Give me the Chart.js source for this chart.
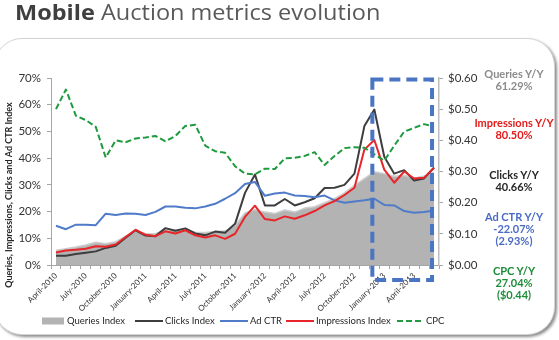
<!DOCTYPE html>
<html>
<head>
<meta charset="utf-8">
<title>Mobile Auction metrics evolution</title>
<script src="https://cdn.jsdelivr.net/npm/chart.js@4.4.0/dist/chart.umd.min.js"></script>
<style>
    html, body { margin: 0; padding: 0; background: #fff; overflow: hidden; }
    #wrap { position: relative; width: 559px; height: 340px; overflow: hidden; }
    #panel {
        position: absolute; left: -6px; top: 38px; width: 559px; height: 295px;
        border: 1px solid #d4d4d4; border-radius: 28px; background: #fff;
        box-shadow: 2px 2px 3px rgba(0, 0, 0, 0.45);
    }
    #metricsChart { position: absolute; left: 0; top: 0; }
    #title {
        position: absolute; left: 15px; top: 2px; margin: 0;
        font-family: "Open Sans", sans-serif; font-size: 21px; line-height: 21px;
        font-weight: 400; color: #595959; white-space: nowrap;
        transform: scaleX(1.12); transform-origin: left top;
    }
    #title b { color: #3f3f3f; font-weight: 700; }
    .yoy {
        position: absolute; left: 454px; width: 120px; text-align: center;
        font-family: Lato, sans-serif; font-weight: 700; font-size: 11px; line-height: 12px;
    }
</style>
</head>
<body>
<div id="wrap">
    <div id="panel"></div>
    <canvas id="metricsChart" width="559" height="340"></canvas>
    <h1 id="title"><b>Mobile</b> Auction metrics evolution</h1>
    <div class="yoy" style="top:68px;color:#8c8c8c">Queries Y/Y<br>61.29%</div>
    <div class="yoy" style="top:117px;color:#e31b1b">Impressions Y/Y<br>80.50%</div>
    <div class="yoy" style="top:169px;color:#262626">Clicks Y/Y<br>40.66%</div>
    <div class="yoy" style="top:211px;color:#4a6bc5">Ad CTR Y/Y<br>-22.07%<br>(2.93%)</div>
    <div class="yoy" style="top:265px;color:#1e8c3a">CPC Y/Y<br>27.04%<br>($0.44)</div>
</div>
<script>
// monthly categories, a label is shown every third month
const months = [
    "April-2010", "May-2010", "June-2010", "July-2010", "August-2010", "September-2010",
    "October-2010", "November-2010", "December-2010",
    "January-2011", "February-2011", "March-2011", "April-2011", "May-2011", "June-2011",
    "July-2011", "August-2011", "September-2011", "October-2011", "November-2011", "December-2011",
    "January-2012", "February-2012", "March-2012", "April-2012", "May-2012", "June-2012",
    "July-2012", "August-2012", "September-2012", "October-2012", "November-2012", "December-2012",
    "January-2013", "February-2013", "March-2013", "April-2013", "May-2013", "June-2013"
];

// left axis, percent
const queriesIndex = [5.5, 6.1, 6.7, 7.5, 8.5, 8.0, 8.7, 10.8, 12.6, 11.8, 11.7, 13.2, 13.0, 13.2, 12.3, 12.2, 12.5, 12.7, 14.8, 19.5,
    20.8, 19.8, 19.3, 20.6, 19.8, 21.3, 21.8, 23.3, 24.8, 27.0, 29.8, 32.3, 34.9, 34.2, 33.2, 33.6, 32.5, 33.3, 34.6];
const clicksIndex = [3.5, 3.5, 4.1, 4.6, 5.1, 6.4, 7.2, 10.2, 13.0, 11.0, 10.8, 13.8, 12.8, 13.7, 11.8, 11.1, 12.5, 12.1, 15.4, 27.0,
    33.9, 22.3, 22.3, 24.7, 22.3, 23.5, 25.0, 28.8, 28.9, 30.0, 34.2, 52.0, 58.2, 40.5, 34.2, 35.5, 31.6, 32.4, 36.5];
const adCtr = [14.7, 13.4, 15.1, 15.1, 14.9, 19.2, 18.7, 19.3, 19.2, 18.7, 19.9, 21.9, 21.9, 21.4, 21.2, 21.9, 22.9, 24.8, 26.9, 30.3,
    31.1, 25.9, 26.8, 27.1, 26.0, 25.8, 25.4, 26.0, 24.2, 23.3, 23.8, 24.2, 24.8, 22.5, 22.3, 20.2, 19.6, 19.8, 20.4];
const impressionsIndex = [4.7, 5.4, 5.7, 6.1, 7.0, 6.8, 7.7, 10.5, 13.2, 11.3, 10.8, 12.6, 11.8, 13.0, 11.1, 10.3, 11.1, 9.8, 11.7, 18.0,
    22.2, 17.2, 16.7, 18.2, 17.3, 18.6, 20.2, 22.3, 23.9, 26.2, 28.9, 43.2, 46.8, 35.7, 30.8, 35.0, 32.4, 32.7, 36.3];

// right axis, dollars
const cpc = [0.500, 0.563, 0.479, 0.465, 0.443, 0.345, 0.400, 0.394, 0.406, 0.409, 0.414, 0.397, 0.414, 0.446, 0.450, 0.383, 0.365, 0.360, 0.317, 0.293,
    0.291, 0.309, 0.308, 0.342, 0.344, 0.350, 0.362, 0.321, 0.350, 0.375, 0.378, 0.376, 0.355, 0.335, 0.383, 0.428, 0.440, 0.452, 0.444];

const axisColor = "#a6a6a6";
const textColor = "#333333";

// Draws the axis title, the legend and the dashed frame round the last months
const overlayPlugin = {
    id: "overlay",
    afterDraw(chart) {
        const { ctx, scales } = chart;
        const x = scales.x;
        const y = scales.y;

        ctx.save();

        // rotated title of the left axis
        ctx.translate(9, 195);
        ctx.rotate(-Math.PI / 2);
        ctx.font = "bold 9px Lato";
        ctx.fillStyle = "#262626";
        ctx.textAlign = "center";
        ctx.textBaseline = "middle";
        ctx.fillText("Queries, Impressions, Clicks and Ad CTR Index", 0, 0);
        ctx.setTransform(1, 0, 0, 1, 0, 0);

        // legend
        const legendX = [42, 135, 220, 286, 397];
        const legendY = 321;
        ctx.font = "9.5px Lato";
        ctx.textAlign = "left";
        ctx.textBaseline = "middle";
        chart.data.datasets.forEach((ds, i) => {
            const lx = legendX[i];
            const sample = i === 4 ? 21 : 22;
            if (ds.fill) {
                ctx.fillStyle = ds.backgroundColor;
                ctx.fillRect(lx, legendY - 3.5, sample, 7);
            } else {
                ctx.strokeStyle = ds.borderColor;
                ctx.lineWidth = 2;
                ctx.setLineDash(ds.borderDash || []);
                ctx.beginPath();
                ctx.moveTo(lx, legendY);
                ctx.lineTo(lx + sample + 6, legendY);
                ctx.stroke();
                ctx.setLineDash([]);
            }
            ctx.fillStyle = "#262626";
            ctx.fillText(ds.label, lx + sample + (ds.fill ? 3 : 8), legendY);
        });

        // dashed frame over the latest months
        const left = x.getPixelForValue(31.8);
        const right = x.getPixelForValue(37.8);
        const top = y.getPixelForValue(69.4);
        const bottom = y.getPixelForValue(0) + 15;
        ctx.strokeStyle = "#4a75c2";
        ctx.lineWidth = 4;
        ctx.setLineDash([11, 6]);
        ctx.strokeRect(left, top, right - left, bottom - top);

        ctx.restore();
    }
};

const lineDefaults = { pointRadius: 0, borderWidth: 2, tension: 0, borderJoinStyle: "round", fill: false };

new Chart(document.getElementById("metricsChart"), {
    type: "line",
    data: {
        labels: months,
        datasets: [
            { ...lineDefaults, label: "Queries Index", data: queriesIndex, yAxisID: "y", fill: "origin",
              backgroundColor: "#b3b3b3", borderColor: "#cdcdcd", borderWidth: 1.5, order: 5 },
            { ...lineDefaults, label: "Clicks Index", data: clicksIndex, yAxisID: "y", borderColor: "#3d3d3d", order: 4 },
            { ...lineDefaults, label: "Ad CTR", data: adCtr, yAxisID: "y", borderColor: "#4f7bc8", order: 3 },
            { ...lineDefaults, label: "Impressions Index", data: impressionsIndex, yAxisID: "y", borderColor: "#e8262a", order: 2 },
            { ...lineDefaults, label: "CPC", data: cpc, yAxisID: "y1", borderColor: "#1f9a3f", borderDash: [6, 3], order: 1 }
        ]
    },
    options: {
        responsive: false,
        animation: false,
        layout: { padding: { top: 78, left: 0, right: 0, bottom: 0 } },
        plugins: { legend: { display: false }, tooltip: { enabled: false } },
        scales: {
            x: {
                offset: true,
                grid: { offset: true, drawOnChartArea: false, tickLength: 4, tickColor: axisColor },
                border: { color: axisColor },
                ticks: {
                    autoSkip: false, maxRotation: 45, minRotation: 45, padding: 2,
                    color: textColor, font: { family: "Lato", size: 8 },
                    callback: (value, index) => (index % 3 === 0 ? months[index] : "")
                },
                afterFit: (scale) => { scale.height = 75; }
            },
            y: {
                position: "left", min: 0, max: 70,
                grid: { drawOnChartArea: false, tickLength: 4, tickColor: axisColor },
                border: { color: axisColor },
                ticks: { stepSize: 10, padding: 6, color: textColor, font: { family: "Lato", size: 11.5 },
                         callback: (v) => v + "%" },
                afterFit: (scale) => { scale.width = 51; }
            },
            y1: {
                position: "right", min: 0, max: 0.6,
                grid: { drawOnChartArea: false, tickLength: 4, tickColor: axisColor },
                border: { color: "#bdbdbd", width: 1.5 },
                ticks: { stepSize: 0.1, padding: 5, color: textColor, font: { family: "Lato", size: 11.5 },
                         callback: (v) => "$" + Number(v).toFixed(2) },
                afterFit: (scale) => { scale.width = 120; }
            }
        }
    },
    plugins: [overlayPlugin]
});
</script>
</body>
</html>
